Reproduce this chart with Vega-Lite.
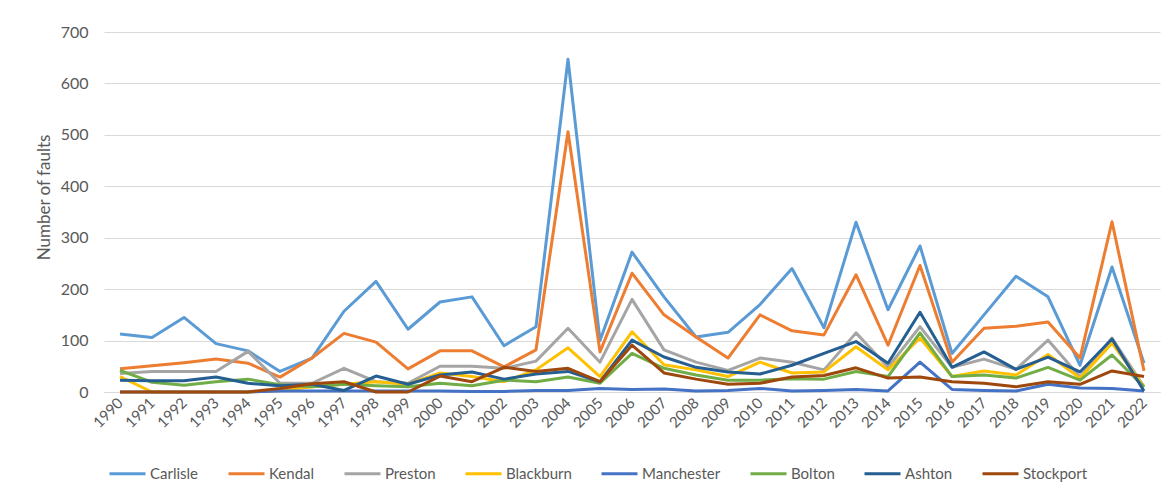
{
  "$schema": "https://vega.github.io/schema/vega-lite/v6.json",
  "width": 1056,
  "height": 360,
  "autosize": "none",
  "padding": {"left": 104, "top": 32, "right": 11, "bottom": 100},
  "background": "white",
  "config": {
    "font": "Lato",
    "view": {"stroke": null}
  },
  "data": {
    "values": [
      {"year":"1990","Carlisle":113,"Kendal":45,"Preston":36,"Blackburn":30,"Manchester":0,"Bolton":42,"Ashton":23,"Stockport":0},
      {"year":"1991","Carlisle":106,"Kendal":51,"Preston":40,"Blackburn":0,"Manchester":0,"Bolton":19,"Ashton":22,"Stockport":0},
      {"year":"1992","Carlisle":145,"Kendal":57,"Preston":40,"Blackburn":0,"Manchester":0,"Bolton":13,"Ashton":22,"Stockport":0},
      {"year":"1993","Carlisle":94,"Kendal":64,"Preston":40,"Blackburn":0,"Manchester":0,"Bolton":20,"Ashton":29,"Stockport":0},
      {"year":"1994","Carlisle":80,"Kendal":56,"Preston":79,"Blackburn":0,"Manchester":0,"Bolton":25,"Ashton":17,"Stockport":0},
      {"year":"1995","Carlisle":40,"Kendal":29,"Preston":17,"Blackburn":3,"Manchester":2,"Bolton":14,"Ashton":12,"Stockport":7},
      {"year":"1996","Carlisle":66,"Kendal":66,"Preston":17,"Blackburn":10,"Manchester":2,"Bolton":10,"Ashton":15,"Stockport":16},
      {"year":"1997","Carlisle":157,"Kendal":114,"Preston":46,"Blackburn":15,"Manchester":2,"Bolton":15,"Ashton":3,"Stockport":20},
      {"year":"1998","Carlisle":215,"Kendal":97,"Preston":20,"Blackburn":20,"Manchester":2,"Bolton":12,"Ashton":31,"Stockport":0},
      {"year":"1999","Carlisle":122,"Kendal":45,"Preston":17,"Blackburn":15,"Manchester":2,"Bolton":10,"Ashton":15,"Stockport":0},
      {"year":"2000","Carlisle":175,"Kendal":80,"Preston":50,"Blackburn":37,"Manchester":2,"Bolton":17,"Ashton":33,"Stockport":31},
      {"year":"2001","Carlisle":185,"Kendal":80,"Preston":50,"Blackburn":30,"Manchester":1,"Bolton":12,"Ashton":39,"Stockport":20},
      {"year":"2002","Carlisle":90,"Kendal":49,"Preston":46,"Blackburn":20,"Manchester":1,"Bolton":23,"Ashton":25,"Stockport":48},
      {"year":"2003","Carlisle":127,"Kendal":82,"Preston":60,"Blackburn":43,"Manchester":3,"Bolton":20,"Ashton":35,"Stockport":40},
      {"year":"2004","Carlisle":647,"Kendal":506,"Preston":124,"Blackburn":86,"Manchester":3,"Bolton":29,"Ashton":40,"Stockport":46},
      {"year":"2005","Carlisle":100,"Kendal":78,"Preston":58,"Blackburn":30,"Manchester":7,"Bolton":17,"Ashton":20,"Stockport":20},
      {"year":"2006","Carlisle":272,"Kendal":231,"Preston":180,"Blackburn":117,"Manchester":5,"Bolton":75,"Ashton":101,"Stockport":91},
      {"year":"2007","Carlisle":185,"Kendal":150,"Preston":82,"Blackburn":53,"Manchester":6,"Bolton":46,"Ashton":68,"Stockport":37},
      {"year":"2008","Carlisle":107,"Kendal":107,"Preston":58,"Blackburn":43,"Manchester":2,"Bolton":33,"Ashton":48,"Stockport":25},
      {"year":"2009","Carlisle":116,"Kendal":66,"Preston":42,"Blackburn":30,"Manchester":3,"Bolton":23,"Ashton":39,"Stockport":15},
      {"year":"2010","Carlisle":170,"Kendal":150,"Preston":66,"Blackburn":58,"Manchester":7,"Bolton":23,"Ashton":35,"Stockport":17},
      {"year":"2011","Carlisle":240,"Kendal":119,"Preston":58,"Blackburn":37,"Manchester":2,"Bolton":26,"Ashton":52,"Stockport":29},
      {"year":"2012","Carlisle":125,"Kendal":111,"Preston":43,"Blackburn":39,"Manchester":3,"Bolton":25,"Ashton":75,"Stockport":32},
      {"year":"2013","Carlisle":330,"Kendal":228,"Preston":115,"Blackburn":88,"Manchester":5,"Bolton":40,"Ashton":98,"Stockport":47},
      {"year":"2014","Carlisle":160,"Kendal":91,"Preston":48,"Blackburn":43,"Manchester":2,"Bolton":30,"Ashton":56,"Stockport":27},
      {"year":"2015","Carlisle":284,"Kendal":246,"Preston":127,"Blackburn":105,"Manchester":58,"Bolton":115,"Ashton":155,"Stockport":29},
      {"year":"2016","Carlisle":75,"Kendal":58,"Preston":48,"Blackburn":30,"Manchester":5,"Bolton":30,"Ashton":48,"Stockport":20},
      {"year":"2017","Carlisle":150,"Kendal":124,"Preston":64,"Blackburn":41,"Manchester":3,"Bolton":33,"Ashton":78,"Stockport":17},
      {"year":"2018","Carlisle":225,"Kendal":128,"Preston":44,"Blackburn":33,"Manchester":2,"Bolton":27,"Ashton":44,"Stockport":10},
      {"year":"2019","Carlisle":185,"Kendal":136,"Preston":101,"Blackburn":73,"Manchester":15,"Bolton":48,"Ashton":68,"Stockport":20},
      {"year":"2020","Carlisle":52,"Kendal":66,"Preston":29,"Blackburn":27,"Manchester":8,"Bolton":23,"Ashton":39,"Stockport":15},
      {"year":"2021","Carlisle":243,"Kendal":331,"Preston":105,"Blackburn":95,"Manchester":7,"Bolton":72,"Ashton":103,"Stockport":41},
      {"year":"2022","Carlisle":56,"Kendal":41,"Preston":10,"Blackburn":10,"Manchester":2,"Bolton":10,"Ashton":2,"Stockport":30}
    ]
  },
  "transform": [
    {"fold": ["Carlisle","Kendal","Preston","Blackburn","Manchester","Bolton","Ashton","Stockport"], "as": ["site","faults"]}
  ],
  "mark": {"type": "line", "strokeWidth": 3, "strokeJoin": "round"},
  "encoding": {
    "x": {
      "field": "year", "type": "ordinal",
      "scale": {"type": "point", "padding": 0.5},
      "axis": {
        "title": null,
        "labelAngle": -45, "labelAlign": "right", "labelBaseline": "middle",
        "labelPadding": 8, "labelFontSize": 15, "labelColor": "#595959",
        "ticks": false, "domain": true, "domainColor": "#D9D9D9", "domainWidth": 1,
        "grid": false
      }
    },
    "y": {
      "field": "faults", "type": "quantitative",
      "scale": {"domain": [0, 700], "nice": false},
      "axis": {
        "title": "Number of faults",
        "titleFontSize": 17, "titleFontWeight": "normal", "titleColor": "#595959",
        "titleAngle": -90, "titleX": -60, "titleY": 165, "titleBaseline": "middle", "titleAlign": "center",
        "values": [0,100,200,300,400,500,600,700],
        "labelFontSize": 16, "labelColor": "#595959", "labelPadding": 16,
        "ticks": false, "domain": false,
        "grid": true, "gridColor": "#D9D9D9", "gridWidth": 1
      }
    },
    "color": {
      "field": "site", "type": "nominal",
      "scale": {
        "domain": ["Carlisle","Kendal","Preston","Blackburn","Manchester","Bolton","Ashton","Stockport"],
        "range": ["#5B9BD5","#ED7D31","#A5A5A5","#FFC000","#4472C4","#70AD47","#255E91","#9E480E"]
      },
      "legend": {
        "title": null,
        "orient": "none", "legendX": 4, "legendY": 422,
        "direction": "horizontal",
        "symbolType": "stroke", "symbolSize": 1296, "symbolStrokeWidth": 3,
        "labelFontSize": 15, "labelColor": "#595959", "labelOffset": 3,
        "columnPadding": 23
      }
    }
  }
}
